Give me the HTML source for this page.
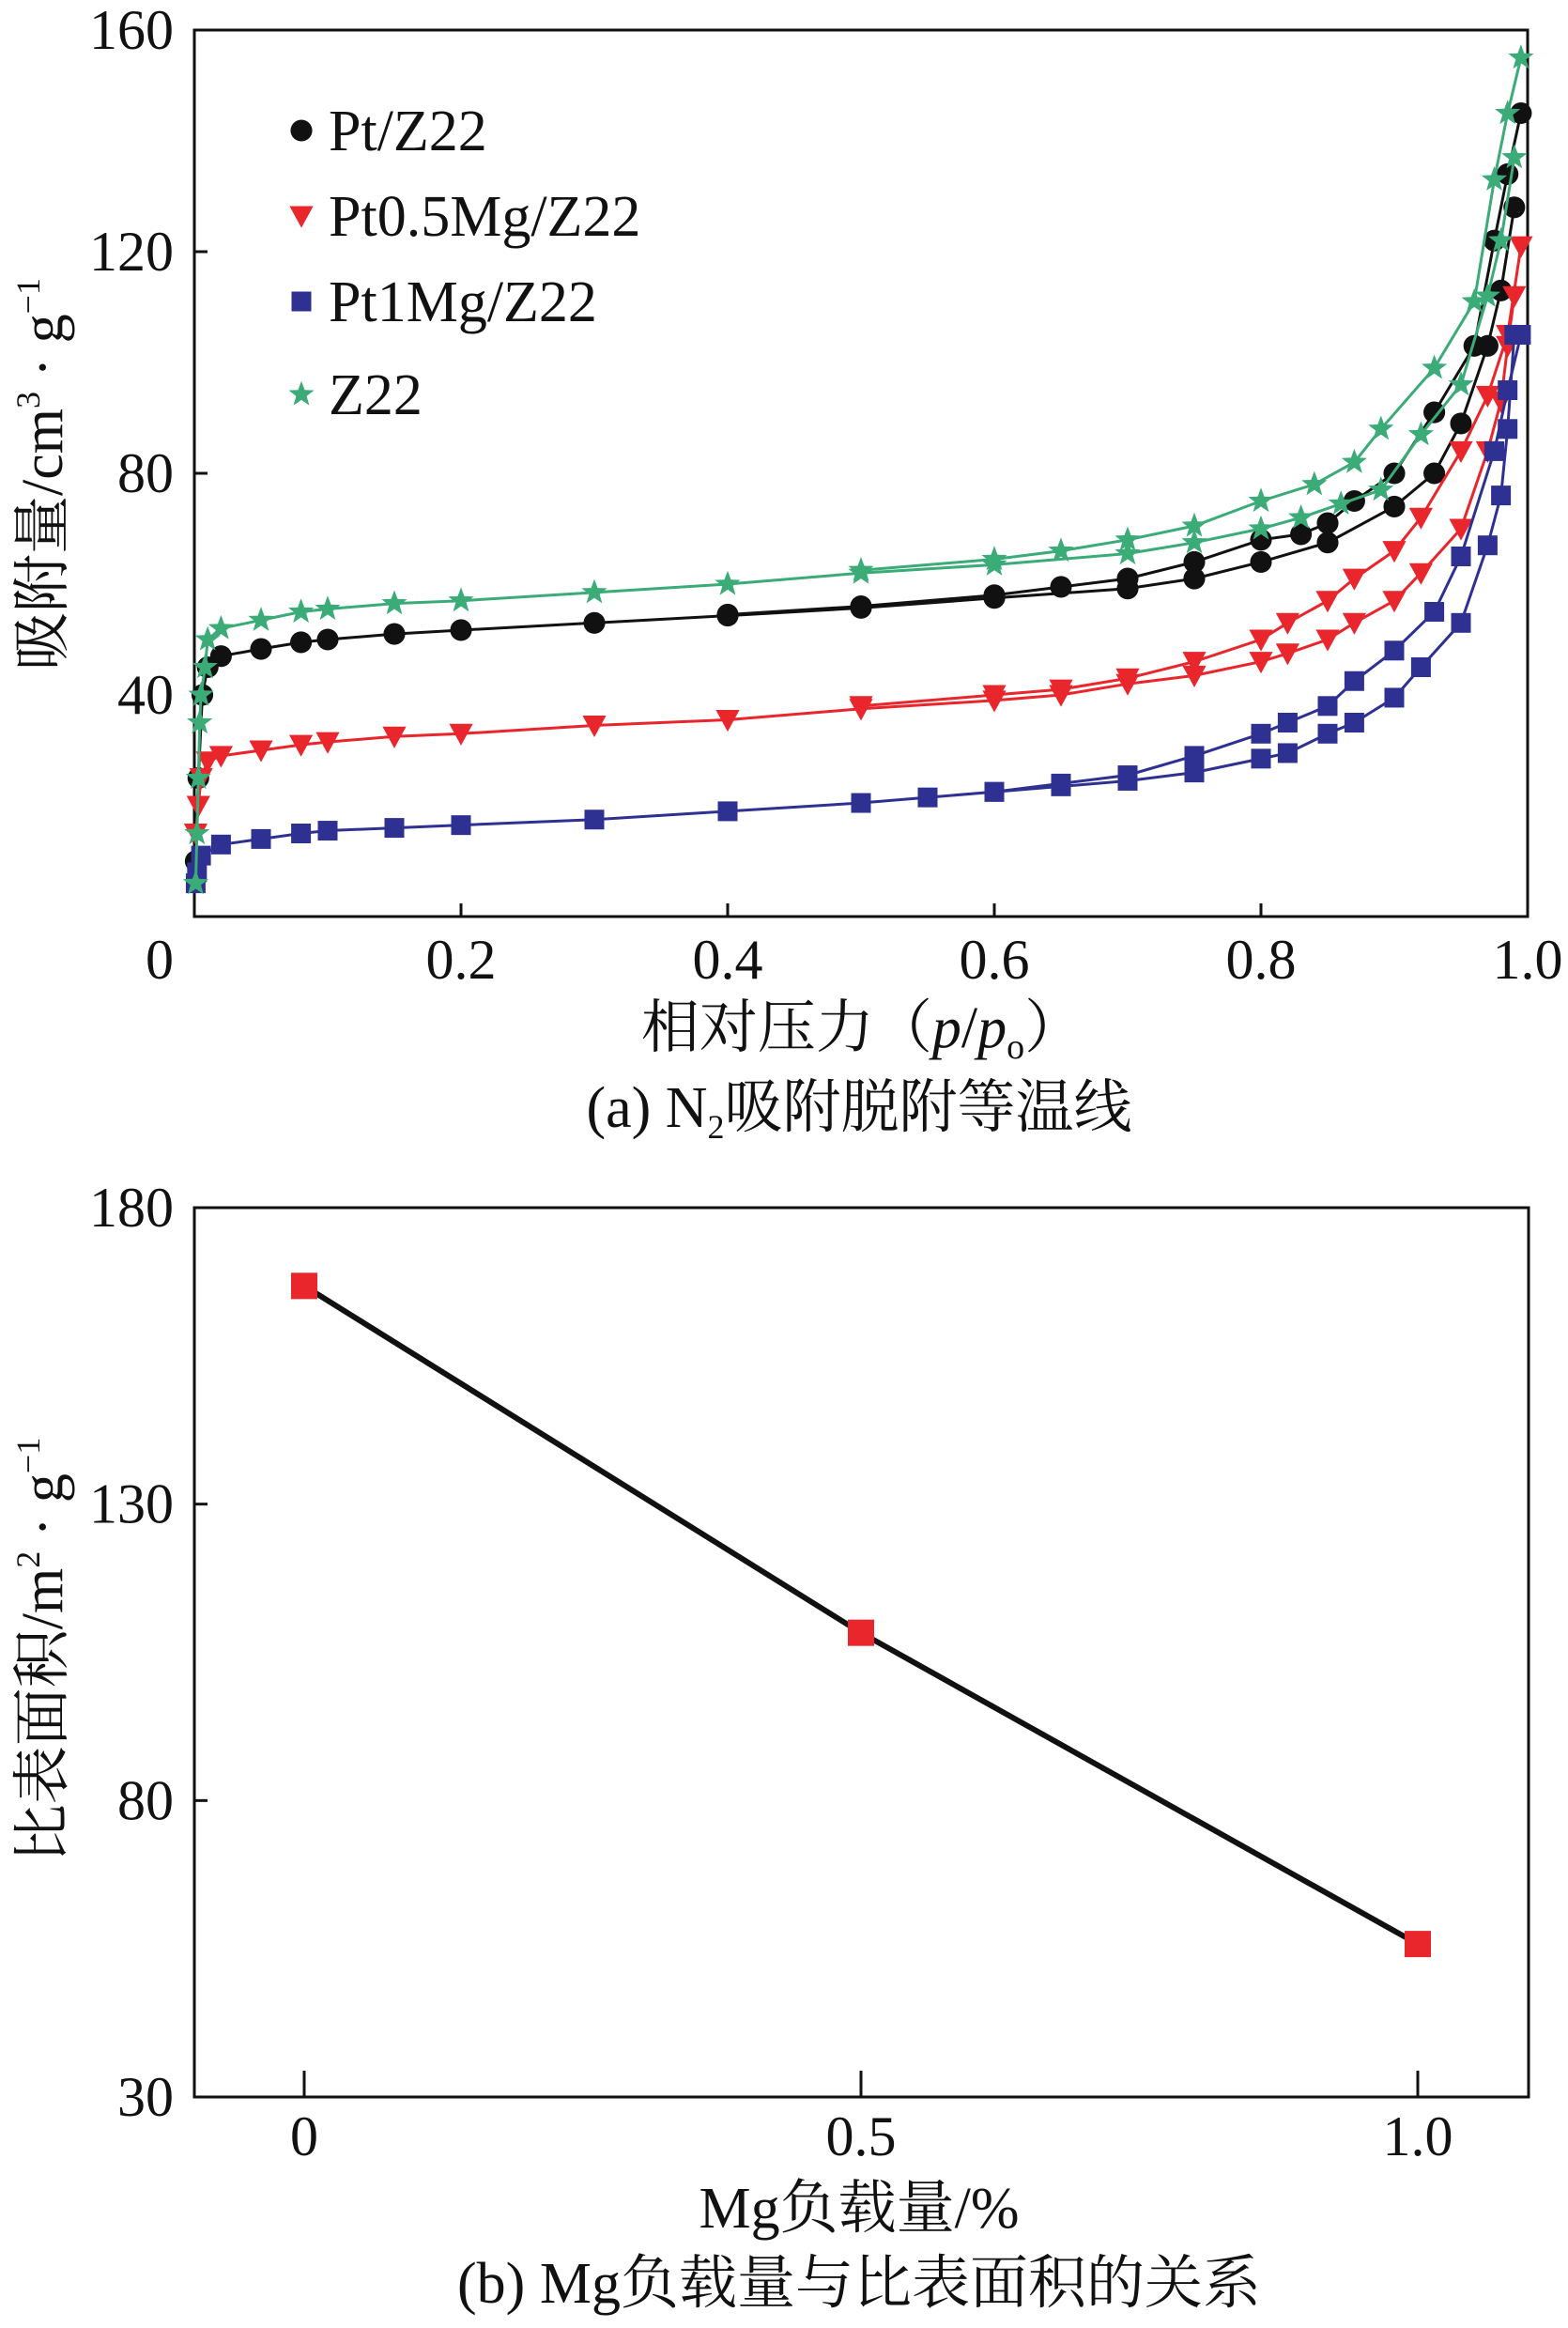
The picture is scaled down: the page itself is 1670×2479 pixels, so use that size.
<!DOCTYPE html>
<html><head><meta charset="utf-8">
<style>
body{margin:0;background:#fff}
svg{display:block}
text{font-family:"Liberation Serif","Noto Serif CJK SC",serif;fill:#111}
</style></head>
<body>
<svg id="fig" width="1670" height="2479" viewBox="0 0 1670 2479" xmlns="http://www.w3.org/2000/svg">
<g id="pa"></g>
<g id="pb"></g>
</svg>
<script>
// ---- chart (a) data ----
const aXTicks = [0,0.2,0.4,0.6,0.8,1.0];
const aXTickLabels = ["0","0.2","0.4","0.6","0.8","1.0"];
const aYTicks = [40,80,120,160];
const aYTickLabels = ["40","80","120","160"];
const seriesNames = ["Pt/Z22","Pt0.5Mg/Z22","Pt1Mg/Z22","Z22"];
const ptAdsX = [0.001,0.003,0.006,0.01,0.02,0.05,0.08,0.1,0.15,0.2,0.3,0.4,0.5,0.6,0.7,0.75,0.8,0.85,0.9,0.93,0.95,0.97,0.98,0.99];
const ptAdsY = [10,25,40,45,47,48.3,49.5,50,51,51.7,53,54.3,55.7,57.5,59.2,61,64,67.5,74,80,89,103,113,128];
const ptDesX = [0.995,0.985,0.975,0.96,0.93,0.9,0.87,0.85,0.83,0.8,0.75,0.7,0.65,0.6,0.5,0.4];
const ptDesY = [145,134,122,103,91,80,75,71,69,68,64,61,59.5,58,56,54.5];
const mg05AdsX = [0.001,0.003,0.005,0.01,0.02,0.05,0.08,0.1,0.15,0.2,0.3,0.4,0.5,0.6,0.65,0.7,0.75,0.8,0.82,0.85,0.87,0.9,0.92,0.95,0.97,0.98,0.985,0.99];
const mg05AdsY = [15,20,25,28,29,30,31,31.5,32.5,33,34.5,35.5,37.5,39,40,42,43.5,46,47.5,50,53,57,62,70,84,93,103,112];
const mg05DesX = [0.995,0.985,0.97,0.95,0.92,0.9,0.87,0.85,0.82,0.8,0.75,0.7,0.65,0.6,0.5];
const mg05DesY = [121,105,94,84,72,66,61,57,53,50,46,43,41,40,38];
const mg1AdsX = [0.001,0.002,0.005,0.02,0.05,0.08,0.1,0.15,0.2,0.3,0.4,0.5,0.55,0.6,0.65,0.7,0.75,0.8,0.82,0.85,0.87,0.9,0.92,0.95,0.97,0.98,0.985,0.99];
const mg1AdsY = [6,8,11,13,14,15,15.5,16,16.5,17.5,19,20.5,21.5,22.5,23.5,24.5,26,28.5,29.5,33,35,39.5,45,53,67,76,88,105];
const mg1DesX = [0.995,0.985,0.975,0.95,0.93,0.9,0.87,0.85,0.82,0.8,0.75,0.7,0.65,0.6];
const mg1DesY = [105,95,84,65,55,48,42.5,38,35,33,29,25.5,24,22.5];
const zAdsX = [0.001,0.002,0.003,0.004,0.005,0.008,0.01,0.02,0.05,0.08,0.1,0.15,0.2,0.3,0.4,0.5,0.6,0.7,0.75,0.8,0.83,0.86,0.89,0.92,0.95,0.97,0.98,0.99];
const zAdsY = [6,15,25,35,40,45,50,52,53.5,55,55.5,56.5,57,58.5,60,62,63.5,65.5,67.5,70,72,74.5,77,87,96,112,122,137];
const zDesX = [0.995,0.985,0.975,0.96,0.93,0.89,0.87,0.84,0.8,0.75,0.7,0.65,0.6,0.5];
const zDesY = [155,145,133,111,99,88,82,78,75,70.5,68,66,64.5,62.5];
// ---- chart (b) data ----
const bCats = [0,0.5,1.0];
const bCatLabels = ["0","0.5","1.0"];
const bValues = [166.8,108.3,55.8];
const bYTicks = [30,80,130,180];
const bYTickLabels = ["30","80","130","180"];

const NS="http://www.w3.org/2000/svg";
function mk(parent,tag,attrs,txt){const e=document.createElementNS(NS,tag);for(const k in attrs)e.setAttribute(k,attrs[k]);if(txt!==undefined)e.textContent=txt;parent.appendChild(e);return e;}

// ---------- chart a ----------
const pa=document.getElementById('pa');
const aL=207,aR=1627,aT=32,aB=976;
const ax=v=>aL+v*(aR-aL), ay=v=>aB-v/160*(aB-aT);
let fa=mk(pa,'rect',{x:aL,y:aT,width:aR-aL,height:aB-aT,fill:'none',stroke:'#111','stroke-width':3});


aXTicks.forEach((t,i)=>{
  let l=mk(pa,'line',{x1:ax(t),x2:ax(t),y1:aB,y2:aB-14,stroke:'#111','stroke-width':3});
  
  
  let tx=mk(pa,'text',{x:ax(t)-(i===0?37:0),y:aB+66,'font-size':60,'text-anchor':'middle'},aXTickLabels[i]);
  
  
});
aYTicks.forEach((t,i)=>{
  let l=mk(pa,'line',{x1:aL,x2:aL+14,y1:ay(t),y2:ay(t),stroke:'#111','stroke-width':3});
  
  
  let tx=mk(pa,'text',{x:aL-22,y:ay(t)+20,'font-size':60,'text-anchor':'end'},aYTickLabels[i]);
  
  
});
const colors=['#111111','#e8262c','#2e3192','#3bab78'];
const shapes=['circle','tri','square','star'];
function marker(g,shape,x,y,c,s){
  if(shape==='circle') return mk(g,'circle',{cx:x,cy:y,r:s*0.55,fill:c});
  if(shape==='square') return mk(g,'rect',{x:x-s*0.5,y:y-s*0.5,width:s,height:s,fill:c});
  if(shape==='tri') return mk(g,'polygon',{points:`${x-s*0.6},${y-s*0.5} ${x+s*0.6},${y-s*0.5} ${x},${y+s*0.6}`,fill:c});
  let p=[];for(let k=0;k<10;k++){const r=k%2?s*0.28:s*0.68;const a=-Math.PI/2+k*Math.PI/5;p.push((x+r*Math.cos(a)).toFixed(1)+','+(y+r*Math.sin(a)).toFixed(1));}
  return mk(g,'polygon',{points:p.join(' '),fill:c});
}
const allSeries=[[ptAdsX,ptAdsY,ptDesX,ptDesY],[mg05AdsX,mg05AdsY,mg05DesX,mg05DesY],[mg1AdsX,mg1AdsY,mg1DesX,mg1DesY],[zAdsX,zAdsY,zDesX,zDesY]];
allSeries.forEach((s,si)=>{
  const g=mk(pa,'g',{});
  
  
  [[s[0],s[1]],[s[2],s[3]]].forEach(([xs,ys])=>{
    const d=xs.map((x,i)=>(i?'L':'M')+ax(x).toFixed(1)+','+ay(ys[i]).toFixed(1)).join(' ');
    const p=mk(g,'path',{d:d,fill:'none',stroke:colors[si],'stroke-width':3});
    
    
    xs.forEach((x,i)=>{
      const m=marker(g,shapes[si],ax(x),ay(ys[i]),colors[si],21);
      
      
    });
  });
});
// legend
const legY=[139,230,321,420];
const lg=mk(pa,'g',{});


seriesNames.forEach((n,i)=>{
  const m=marker(lg,shapes[i],321,legY[i],colors[i],21);
  
  
  const t=mk(lg,'text',{x:350,y:legY[i]+21,'font-size':62},n);
  
  
});
let yla=mk(pa,'text',{x:0,y:0,'font-size':62,'text-anchor':'middle',transform:'translate(66,505) rotate(-90)'});
yla.innerHTML='吸附量/cm<tspan font-size="36" dy="-24">3</tspan><tspan dy="24"> · g</tspan><tspan font-size="36" dy="-24">−1</tspan>';


let xla=mk(pa,'text',{x:918,y:1115,'font-size':62,'text-anchor':'middle'});
xla.innerHTML='相对压力（<tspan font-style="italic">p</tspan>/<tspan font-style="italic">p</tspan><tspan font-size="38" dy="12">o</tspan><tspan dy="-12">）</tspan>';


let capa=mk(pa,'text',{x:915,y:1200,'font-size':62,'text-anchor':'middle'});
capa.innerHTML='(a) N<tspan font-size="36" dy="12">2</tspan><tspan dy="-12">吸附脱附等温线</tspan>';



// ---------- chart b ----------
const pb=document.getElementById('pb');
const bL=207,bR=1628,bT=1286,bB=2233;
const bx=v=>324+v*(1510-324), by=v=>bB-(v-30)/150*(bB-bT);
let fb=mk(pb,'rect',{x:bL,y:bT,width:bR-bL,height:bB-bT,fill:'none',stroke:'#111','stroke-width':3});


bCats.forEach((c,i)=>{
  let l=mk(pb,'line',{x1:bx(c),x2:bx(c),y1:bB,y2:bB-28,stroke:'#111','stroke-width':3});
  
  
  let t=mk(pb,'text',{x:bx(c),y:bB+62,'font-size':60,'text-anchor':'middle'},bCatLabels[i]);
  
  
});
bYTicks.forEach((v,i)=>{
  let l=mk(pb,'line',{x1:bL,x2:bL+14,y1:by(v),y2:by(v),stroke:'#111','stroke-width':3});
  
  
  let t=mk(pb,'text',{x:bL-22,y:by(v)+20,'font-size':60,'text-anchor':'end'},bYTickLabels[i]);
  
  
});
const bd=bCats.map((c,i)=>(i?'L':'M')+bx(c).toFixed(1)+','+by(bValues[i]).toFixed(1)).join(' ');
let bl=mk(pb,'path',{d:bd,fill:'none',stroke:'#111','stroke-width':6});


bCats.forEach((c,i)=>{
  let r=mk(pb,'rect',{x:bx(c)-14,y:by(bValues[i])-14,width:28,height:28,fill:'#e8262c'});
  
  
});
let ylb=mk(pb,'text',{x:0,y:0,'font-size':62,'text-anchor':'middle',transform:'translate(66,1757) rotate(-90)'});
ylb.innerHTML='比表面积/m<tspan font-size="36" dy="-24">2</tspan><tspan dy="24"> · g</tspan><tspan font-size="36" dy="-24">−1</tspan>';


let xlb=mk(pb,'text',{x:915,y:2372,'font-size':62,'text-anchor':'middle'},'Mg负载量/%');


let capb=mk(pb,'text',{x:915,y:2452,'font-size':62,'text-anchor':'middle'},'(b) Mg负载量与比表面积的关系');


</script>
</body></html>
